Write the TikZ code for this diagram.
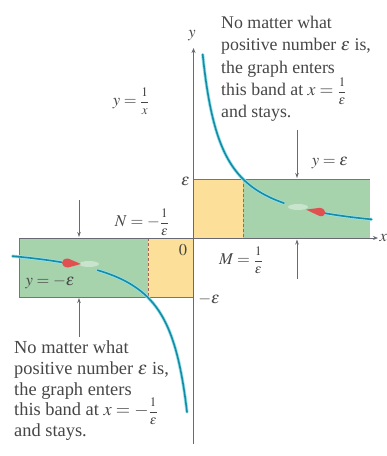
\documentclass[tikz,border=0pt]{standalone}
\usepackage{mathptmx}
\usepackage{fontspec}
\setmainfont{Liberation Serif}
\usetikzlibrary{arrows.meta}
\definecolor{bandgreen}{RGB}{166,210,172}
\definecolor{bandyellow}{RGB}{252,223,152}
\definecolor{bordercol}{RGB}{165,100,90}
\definecolor{axiscol}{RGB}{105,105,115}
\definecolor{curvecol}{RGB}{20,140,165}
\definecolor{curvehalo}{RGB}{150,225,235}
\definecolor{textcol}{RGB}{70,70,70}
\definecolor{arrowred}{RGB}{225,80,80}
\newcommand{\bfr}[2]{\mbox{\fontsize{13}{13}\selectfont$\displaystyle\frac{#1}{#2}$}}
\tikzset{
  axisline/.style={draw=axiscol, line width=0.9pt, -{Stealth[length=5pt,width=4pt]}},
  pointer/.style={draw=axiscol, line width=0.8pt, -{Stealth[length=5pt,width=3.5pt]}},
  border/.style={draw=bordercol, line width=1pt},
  guide/.style={draw=bordercol, line width=0.8pt, dash pattern=on 3pt off 2pt},
  halo/.style={draw=curvehalo, line width=3.2pt, line cap=round},
  curveline/.style={draw=curvecol, line width=1.6pt, line cap=round},
  lbl/.style={text=textcol, font=\fontsize{16.5}{18}\selectfont, inner sep=0pt},
  noteA/.style={text=textcol, align=left, font=\fontsize{17.8}{22.3}\selectfont, inner sep=0pt},
  noteB/.style={text=textcol, align=left, font=\fontsize{18.4}{20.6}\selectfont, inner sep=0pt},
}
\begin{document}
\begin{tikzpicture}[x=1pt,y=-1pt]
\useasboundingbox (0,0) rectangle (387,456);
% key coordinates
\coordinate (O) at (193.5,238);
\coordinate (yTop) at (193.5,48);
\coordinate (yBot) at (193.5,444);
\coordinate (xL) at (19,238);
\coordinate (xR) at (378,238);
\coordinate (UBtl) at (193.5,179);
\coordinate (UBbr) at (370,238);
\coordinate (UBtr) at (370,179);
\coordinate (Mtop) at (243,179);
\coordinate (M) at (243,238);
\coordinate (LBtl) at (19,238);
\coordinate (LBbl) at (19,297);
\coordinate (LBbr) at (193.5,297);
\coordinate (N) at (148,238);
\coordinate (Nbot) at (148,297);
% bands
\fill[bandgreen] (UBtl) rectangle (UBbr);
\fill[bandyellow] (UBtl) rectangle (M);
\fill[bandgreen] (LBtl) rectangle (LBbr);
\fill[bandyellow] (N) rectangle (LBbr);
\draw[border] (UBtl) -- (UBtr);
\draw[border] (O) -- (UBbr);
\draw[border] (LBtl) -- (O);
\draw[border] (LBbl) -- (LBbr);
\draw[draw=bordercol, line width=0.6pt] (LBtl) -- (LBbl);
\draw[guide] (Mtop) -- (M);
\draw[guide] (N) -- (Nbot);
% curve upper: y = 1/x branch
\path[halo] plot[domain=9.2:90.5, samples=80, smooth] ({193.5+\x},{238-3505/(\x+9.9)});
\path[curveline] plot[domain=9.2:90.5, samples=80, smooth] ({193.5+\x},{238-3505/(\x+9.9)});
\path[halo] plot[domain=128:178, samples=30, smooth] ({193.5+\x},{238-3505/(\x+9.9)});
\path[curveline] plot[domain=128:178, samples=30, smooth] ({193.5+\x},{238-3505/(\x+9.9)});
\fill[white, opacity=0.4] (298,207) ellipse (10pt and 3pt);
\fill[arrowred] (306,209.6) -- (320,207.8) .. controls (327,209) and (327,216.5) .. (320,216.2) -- cycle;
% curve lower
\path[halo] plot[domain=-181:-132, samples=30, smooth] ({193.5+\x},{238+3534/(-\x+13.8)});
\path[curveline] plot[domain=-181:-132, samples=30, smooth] ({193.5+\x},{238+3534/(-\x+13.8)});
\path[halo] plot[domain=-96:-6.5, samples=90, smooth] ({193.5+\x},{238+3534/(-\x+13.8)});
\path[curveline] plot[domain=-96:-6.5, samples=90, smooth] ({193.5+\x},{238+3534/(-\x+13.8)});
\fill[white, opacity=0.4] (89,264) ellipse (10pt and 3pt);
\fill[arrowred] (81,264) -- (68,258.5) .. controls (60,258.5) and (60,267) .. (68,267.5) -- cycle;
% axes
\draw[axisline] (yBot) -- (yTop);
\draw[axisline] (xL) -- (xR);
% pointers
\coordinate (p1s) at (297,130); \coordinate (p1e) at (297,178);
\coordinate (p2s) at (297,279); \coordinate (p2e) at (297,239.5);
\coordinate (p3s) at (79,200);  \coordinate (p3e) at (79,237);
\coordinate (p4s) at (79,337);  \coordinate (p4e) at (79,298);
\draw[pointer] (p1s) -- (p1e);
\draw[pointer] (p2s) -- (p2e);
\draw[pointer] (p3s) -- (p3e);
\draw[pointer] (p4s) -- (p4e);
% labels
\node[lbl] (ylab) at (192,36) {$y$};
\node[lbl, anchor=west] (xlab) at (379.5,238) {$x$};
\node[lbl] (fn) at (131,101) {$y=\bfr{1}{x}$};
\node[lbl] (yeps) at (330,163) {$y=\varepsilon$};
\node[lbl, anchor=east] (eps) at (190,181) {$\varepsilon$};
\node[lbl] (Nl) at (142,222) {$N=-\bfr{1}{\varepsilon}$};
\node[lbl] (zero) at (183,250) {$0$};
\node[lbl] (Ml) at (241,260) {$M=\bfr{1}{\varepsilon}$};
\node[lbl] (ymeps) at (50,282) {$y=-\varepsilon$};
\node[lbl] (meps) at (209,299) {$-\varepsilon$};
\node[noteA, anchor=north west] (noteR) at (221,16) {No matter what\\positive number $\varepsilon$ is,\\the graph enters\\this band at $x=\smash{\bfr{1}{\varepsilon}}$\\and stays.};
\node[noteB, anchor=north west] (noteL) at (14,341) {No matter what\\positive number $\varepsilon$ is,\\the graph enters\\this band at $x=-\smash{\bfr{1}{\varepsilon}}$\\and stays.};
\end{tikzpicture}
\end{document}
